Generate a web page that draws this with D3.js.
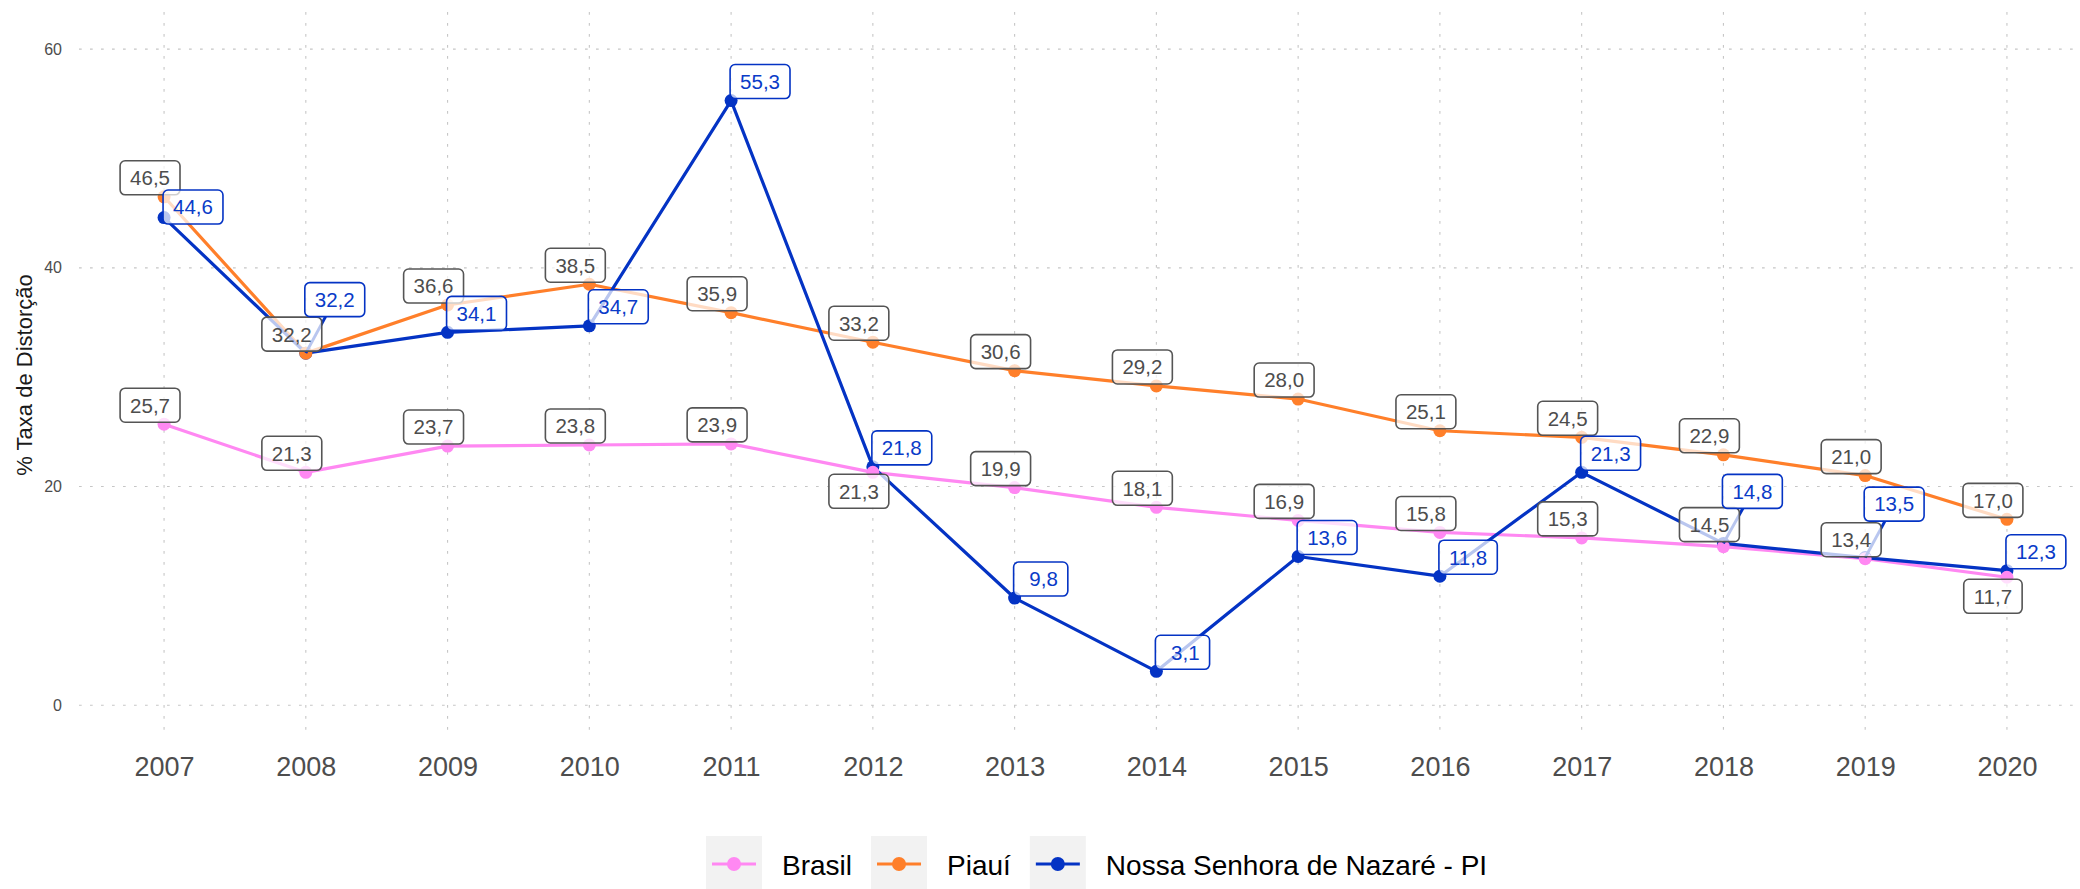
<!DOCTYPE html>
<html>
<head>
<meta charset="utf-8">
<script src="https://cdn.jsdelivr.net/npm/d3@7"></script>
<style>
  html, body { margin: 0; padding: 0; background: #ffffff; }
  svg { display: block; font-family: "Liberation Sans", Arial, Helvetica, sans-serif; }
</style>
</head>
<body>
<svg id="chart" width="2080" height="889"></svg>
<script>
// ---- data -------------------------------------------------------------
const years = [2007, 2008, 2009, 2010, 2011, 2012, 2013, 2014, 2015, 2016, 2017, 2018, 2019, 2020];
const brasil = [25.7, 21.3, 23.7, 23.8, 23.9, 21.3, 19.9, 18.1, 16.9, 15.8, 15.3, 14.5, 13.4, 11.7];
const piaui = [46.5, 32.2, 36.6, 38.5, 35.9, 33.2, 30.6, 29.2, 28.0, 25.1, 24.5, 22.9, 21.0, 17.0];
const nossaSenhora = [44.6, 32.2, 34.1, 34.7, 55.3, 21.8, 9.8, 3.1, 13.6, 11.8, 21.3, 14.8, 13.5, 12.3];
const seriesNames = ["Brasil", "Piauí", "Nossa Senhora de Nazaré - PI"];
const yTicks = [0, 20, 40, 60];
const yTitle = "% Taxa de Distorção";

// ---- label placement (vertical offset of the label box centre, px) -----
const brasilLabelDy = [-19, -19, -19, -19, -19, 19, -19, -19, -19, -19, -19, -22, -19, 19];
const piauiLabelDy = [-19, -19, -19, -19, -19, -19, -19, -19, -19, -19, -19, -19, -19, -19];
const nossaLabelDy = [-10.5, -53.5, -19, -19, -19, -19, -19, -19, -19, -19, -19, -52, -53.5, -19];

// ---- styles -------------------------------------------------------------
const colors = { brasil: "#ff88f2", piaui: "#ff7f2a", nossa: "#0433c4" };
const grayText = "#4d4d4d";
const grayBorder = "#555555";
const blueText = "#0a3bc8";

const W = 2080, H = 889;
const panel = { left: 79, right: 2092, top: 12, bottom: 738 };

const svg = d3.select("#chart");

const x = d3.scalePoint()
  .domain(years)
  .range([panel.left, panel.right])
  .padding(0.6);

const y = d3.scaleLinear()
  .domain([-3, 63.4])
  .range([panel.bottom, panel.top]);

// ---- grid ---------------------------------------------------------------
const grid = svg.append("g").attr("class", "grid")
  .attr("stroke", "#c6c6c6")
  .attr("stroke-width", 1.1)
  .attr("stroke-dasharray", "2.7 8.3");

grid.selectAll("line.h").data(yTicks).join("line")
  .attr("class", "h")
  .attr("x1", panel.left).attr("x2", W)
  .attr("y1", d => y(d)).attr("y2", d => y(d));

grid.selectAll("line.v").data(years).join("line")
  .attr("class", "v")
  .attr("x1", d => x(d)).attr("x2", d => x(d))
  .attr("y1", panel.top).attr("y2", panel.bottom);

// ---- axes ---------------------------------------------------------------
const yAxis = svg.append("g")
  .attr("transform", `translate(${panel.left - 11},0)`)
  .call(d3.axisLeft(y).tickValues(yTicks).tickSize(0).tickPadding(6).tickFormat(d3.format("d")));
yAxis.select(".domain").remove();
yAxis.selectAll("text")
  .attr("fill", grayText)
  .style("font-size", "16px")
  .style("font-family", "'Liberation Sans', Arial, sans-serif");

const xAxis = svg.append("g")
  .attr("transform", `translate(0,${panel.bottom})`)
  .call(d3.axisBottom(x).tickSize(0).tickPadding(0).tickFormat(d => String(d)));
xAxis.select(".domain").remove();
xAxis.selectAll("text")
  .attr("fill", grayText)
  .attr("dy", null)
  .attr("y", 38)
  .style("font-size", "27px")
  .style("font-family", "'Liberation Sans', Arial, sans-serif");

svg.append("text")
  .attr("transform", `translate(32,${(panel.top + panel.bottom) / 2}) rotate(-90)`)
  .attr("text-anchor", "middle")
  .attr("fill", "#1a1a1a")
  .style("font-size", "22px")
  .text(yTitle);

// ---- series -------------------------------------------------------------
const series = [
  { key: "brasil", name: seriesNames[0], values: brasil, dy: brasilLabelDy, color: colors.brasil, side: "left" },
  { key: "piaui", name: seriesNames[1], values: piaui, dy: piauiLabelDy, color: colors.piaui, side: "left" },
  { key: "nossa", name: seriesNames[2], values: nossaSenhora, dy: nossaLabelDy, color: colors.nossa, side: "right" }
];

const line = d3.line()
  .x((d, i) => x(years[i]))
  .y(d => y(d));

// lines: Brasil, Piauí, municipality on top
svg.append("g").selectAll("path").data(series).join("path")
  .attr("d", s => line(s.values))
  .attr("fill", "none")
  .attr("stroke", s => s.color)
  .attr("stroke-width", 3.2)
  .attr("stroke-linejoin", "round");

// points: municipality first, Brasil on top
const pointOrder = [series[2], series[1], series[0]];
pointOrder.forEach(s => {
  svg.append("g").selectAll("circle").data(s.values).join("circle")
    .attr("cx", (d, i) => x(years[i]))
    .attr("cy", d => y(d))
    .attr("r", 6.5)
    .attr("fill", s.color);
});

// ---- labels -------------------------------------------------------------
const fmt = v => {
  const t = v.toFixed(1).replace(".", ",");
  return v < 10 ? " " + t : t;
};

const labelFont = 20.5, padX = 10, boxH = 34;
const measure = svg.append("text").style("font-size", labelFont + "px").style("white-space", "pre");

const labels = [];
series.forEach(s => {
  s.values.forEach((v, i) => {
    const txt = fmt(v);
    measure.text(txt);
    const tw = measure.node().getComputedTextLength();
    const w = tw + 2 * padX;
    const px = x(years[i]), py = y(v);
    const cx = s.side === "left" ? px - 14 : px + w / 2 - 1;
    const cy = py + s.dy[i];
    labels.push({ s, txt, w, px, py, cx, cy });
  });
});
measure.remove();

// leader segments for labels pushed away from their point
const segs = svg.append("g");
labels.forEach(l => {
  const x0 = l.cx - l.w / 2, x1 = l.cx + l.w / 2, y0 = l.cy - boxH / 2, y1 = l.cy + boxH / 2;
  const nx = Math.max(x0, Math.min(l.px, x1)), ny = Math.max(y0, Math.min(l.py, y1));
  const dist = Math.hypot(nx - l.px, ny - l.py);
  if (dist > 8) {
    // intersection of point->centre line with the box border
    const dx = l.cx - l.px, dy = l.cy - l.py;
    const t = Math.min((l.w / 2) / Math.abs(dx || 1e-9), (boxH / 2) / Math.abs(dy || 1e-9));
    const ex = l.cx - dx * t, ey = l.cy - dy * t;
    segs.append("line")
      .attr("x1", l.px).attr("y1", l.py)
      .attr("x2", ex).attr("y2", ey)
      .attr("stroke", l.s.side === "right" ? colors.nossa : grayBorder)
      .attr("stroke-width", 3);
  }
});

const lab = svg.append("g");
labels.forEach(l => {
  const blue = l.s.side === "right";
  const g = lab.append("g");
  g.append("rect")
    .attr("x", l.cx - l.w / 2).attr("y", l.cy - boxH / 2)
    .attr("width", l.w).attr("height", boxH)
    .attr("rx", 5).attr("ry", 5)
    .attr("fill", "rgba(255,255,255,0.72)")
    .attr("stroke", blue ? colors.nossa : grayBorder)
    .attr("stroke-width", 1.6);
  g.append("text")
    .attr("x", l.cx).attr("y", l.cy + 7.4)
    .attr("text-anchor", "middle")
    .attr("fill", blue ? blueText : grayText)
    .style("font-size", labelFont + "px")
    .style("white-space", "pre")
    .text(l.txt);
});

// ---- legend -------------------------------------------------------------
const legend = svg.append("g");
let lx = 706;
const keyW = 56, keyH = 56, keyTop = 836, keyMid = 864;
series.forEach(s => {
  const g = legend.append("g").attr("transform", `translate(${lx},0)`);
  g.append("rect").attr("x", 0).attr("y", keyTop).attr("width", keyW).attr("height", keyH).attr("fill", "#f2f2f2");
  g.append("line").attr("x1", 6).attr("x2", keyW - 6).attr("y1", keyMid).attr("y2", keyMid)
    .attr("stroke", s.color).attr("stroke-width", 3.2);
  g.append("circle").attr("cx", keyW / 2).attr("cy", keyMid).attr("r", 7).attr("fill", s.color);
  const t = g.append("text").attr("x", keyW + 20).attr("y", keyMid + 10.5)
    .attr("fill", "#000").style("font-size", "28px").text(s.name);
  lx += keyW + 20 + t.node().getComputedTextLength() + 19;
});
</script>
</body>
</html>
